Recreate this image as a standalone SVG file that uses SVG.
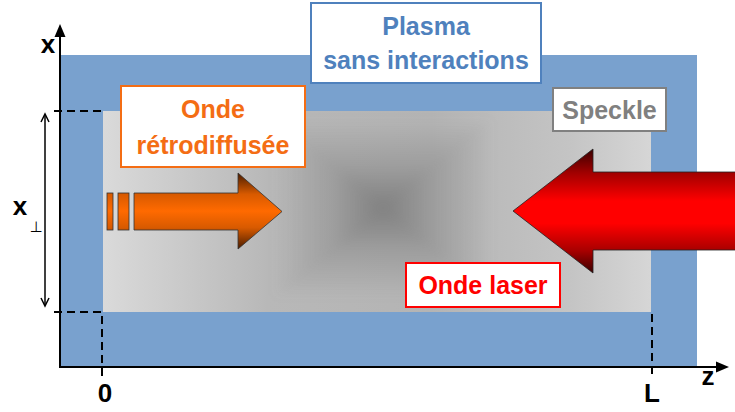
<svg xmlns="http://www.w3.org/2000/svg" width="735" height="412" viewBox="0 0 735 412">
<style>
.lbl{font-family:"Liberation Sans",Arial,sans-serif;font-weight:bold;font-size:25px;text-anchor:middle}
.ax{font-family:"Liberation Sans",Arial,sans-serif;font-weight:bold;font-size:26px;fill:#000;text-anchor:middle}
.dash{stroke:#000;stroke-width:2;stroke-dasharray:8,5;fill:none}
.box{fill:#fff;stroke-width:2}
</style>
<defs>
<linearGradient id="gh" x1="0" y1="0" x2="1" y2="0">
<stop offset="0" stop-color="#dadada"/>
<stop offset="0.3" stop-color="#b8b8b8"/>
<stop offset="0.6" stop-color="#b4b4b4"/>
<stop offset="0.85" stop-color="#c4c4c4"/>
<stop offset="1" stop-color="#d6d6d6"/>
</linearGradient>
<linearGradient id="dt" x1="0" y1="118" x2="0" y2="208" gradientUnits="userSpaceOnUse">
<stop offset="0" stop-color="#808080" stop-opacity="0"/>
<stop offset="0.55" stop-color="#808080" stop-opacity="0.45"/>
<stop offset="1" stop-color="#808080" stop-opacity="1"/>
</linearGradient>
<linearGradient id="db" x1="0" y1="298" x2="0" y2="208" gradientUnits="userSpaceOnUse">
<stop offset="0" stop-color="#808080" stop-opacity="0"/>
<stop offset="0.55" stop-color="#808080" stop-opacity="0.45"/>
<stop offset="1" stop-color="#808080" stop-opacity="1"/>
</linearGradient>
<linearGradient id="dl" x1="273" y1="0" x2="383" y2="0" gradientUnits="userSpaceOnUse">
<stop offset="0" stop-color="#808080" stop-opacity="0"/>
<stop offset="0.55" stop-color="#808080" stop-opacity="0.45"/>
<stop offset="1" stop-color="#808080" stop-opacity="1"/>
</linearGradient>
<linearGradient id="dr" x1="493" y1="0" x2="383" y2="0" gradientUnits="userSpaceOnUse">
<stop offset="0" stop-color="#808080" stop-opacity="0"/>
<stop offset="0.55" stop-color="#808080" stop-opacity="0.45"/>
<stop offset="1" stop-color="#808080" stop-opacity="1"/>
</linearGradient>
<filter id="soft" x="-10%" y="-10%" width="120%" height="120%">
<feGaussianBlur stdDeviation="4"/>
</filter>
<linearGradient id="og" x1="0" y1="173" x2="0" y2="249" gradientUnits="userSpaceOnUse">
<stop offset="0" stop-color="#4a1c00"/>
<stop offset="0.28" stop-color="#d85a00"/>
<stop offset="0.5" stop-color="#ff6a00"/>
<stop offset="0.72" stop-color="#d85a00"/>
<stop offset="1" stop-color="#4a1c00"/>
</linearGradient>
<linearGradient id="rg" x1="0" y1="149" x2="0" y2="273" gradientUnits="userSpaceOnUse">
<stop offset="0" stop-color="#3a0000"/>
<stop offset="0.19" stop-color="#a00000"/>
<stop offset="0.42" stop-color="#ff0000"/>
<stop offset="0.6" stop-color="#ff0000"/>
<stop offset="0.82" stop-color="#a80000"/>
<stop offset="1" stop-color="#3a0000"/>
</linearGradient>
</defs>

<g id="plasma">
<rect x="60" y="55" width="637" height="312" fill="#79a1ce"/>
</g>
<g id="speckle-zone">
<rect x="103" y="111" width="548" height="201" fill="url(#gh)"/>
<g filter="url(#soft)">
<polygon points="273,118 493,118 383,208" fill="url(#dt)"/>
<polygon points="273,298 493,298 383,208" fill="url(#db)"/>
<polygon points="273,118 273,298 383,208" fill="url(#dl)"/>
<polygon points="493,118 493,298 383,208" fill="url(#dr)"/>
</g>
</g>

<g id="connectors">
<line x1="60" y1="367" x2="60" y2="35" stroke="#000" stroke-width="2"/>
<polygon points="60,24 54.5,37 65.5,37" fill="#000"/>
<line x1="59" y1="367" x2="718" y2="367" stroke="#000" stroke-width="2"/>
<polygon points="729,367 716,361.5 716,372.5" fill="#000"/>
<path class="dash" d="M54,111 H102"/>
<path class="dash" d="M54,312 H102 V376"/>
<path class="dash" d="M652,314 V376"/>
<line x1="45" y1="115" x2="45" y2="305" stroke="#000" stroke-width="1.5"/>
<polyline points="41,122 45,114 49,122" fill="none" stroke="#000" stroke-width="1.5"/>
<polyline points="41,298 45,306 49,298" fill="none" stroke="#000" stroke-width="1.5"/>
</g>

<g id="backscattered-arrow">
<rect x="107" y="193" width="6" height="37" fill="url(#og)" stroke="#333" stroke-width="0.8"/>
<rect x="118" y="193" width="11" height="37" fill="url(#og)" stroke="#333" stroke-width="0.8"/>
<path d="M134,193 H238 V173 L282,211.5 L238,249 V230 H134 Z" fill="url(#og)" stroke="#333" stroke-width="0.8"/>
</g>

<g id="laser-arrow">
<path d="M740,172 H593 V149 L513,211 L593,273 V250 H740 Z" fill="url(#rg)" stroke="#222" stroke-width="0.8"/>
</g>

<g id="label-plasma">
<rect class="box" x="311" y="3" width="230" height="80" stroke="#4f81bd"/>
<text class="lbl" x="426" y="35" fill="#4f81bd">Plasma</text>
<text class="lbl" x="426" y="69" fill="#4f81bd">sans interactions</text>
</g>
<g id="label-retro">
<rect class="box" x="121" y="86" width="184" height="81" stroke="#f46d14"/>
<text class="lbl" x="213" y="118" fill="#f46d14">Onde</text>
<text class="lbl" x="213" y="154" fill="#f46d14">rétrodiffusée</text>
</g>
<g id="label-speckle">
<rect class="box" x="553" y="88" width="113" height="43" stroke="#808080"/>
<text class="lbl" x="609.5" y="119" fill="#808080">Speckle</text>
</g>
<g id="label-laser">
<rect class="box" x="406" y="263" width="154" height="44" stroke="#ff0000"/>
<text class="lbl" x="483" y="294" fill="#ff0000">Onde laser</text>
</g>

<g id="axis-labels">
<text class="ax" x="48" y="53">x</text>
<text class="ax" x="20" y="215">x</text>
<text x="36" y="232" font-family="DejaVu Sans,sans-serif" font-size="15" text-anchor="middle" fill="#000">⊥</text>
<text class="ax" x="105" y="402">0</text>
<text class="ax" x="652" y="402">L</text>
<text class="ax" x="708" y="385">z</text>
</g>
</svg>
